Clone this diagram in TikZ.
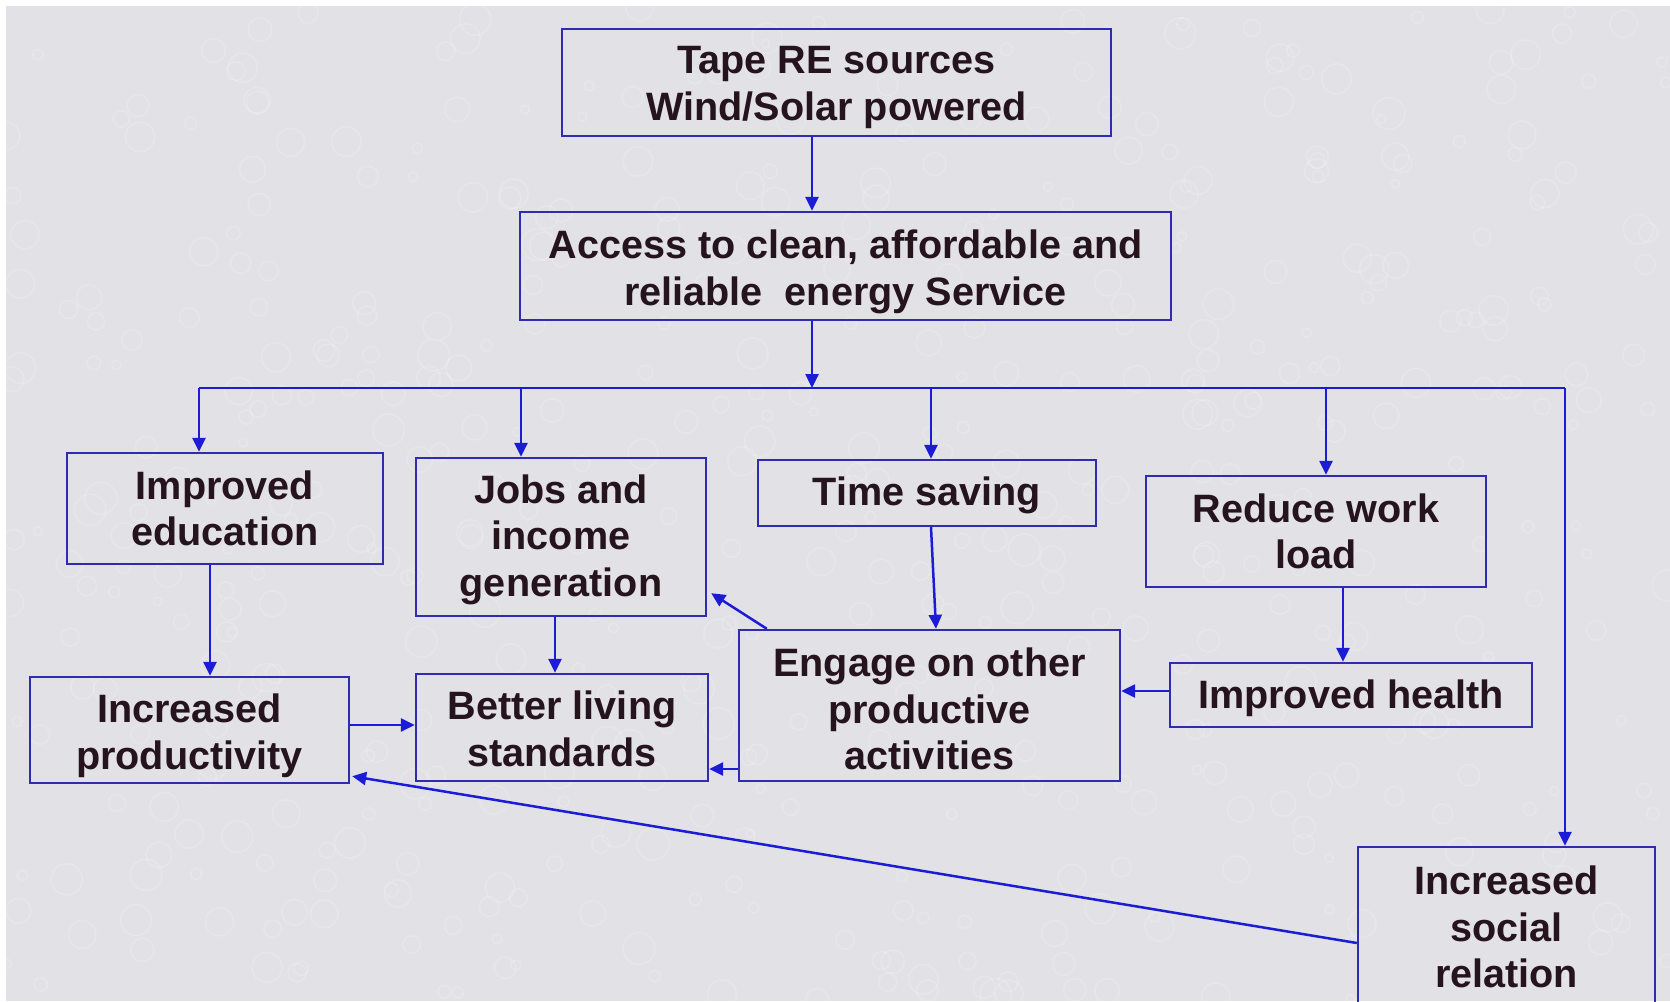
\documentclass[tikz,border=0pt]{standalone}
\usepackage{fontspec}
\setmainfont{Liberation Sans}
\usetikzlibrary{arrows.meta,calc}

\definecolor{paper}{RGB}{226,226,230}
\definecolor{boxline}{RGB}{48,44,176}
\definecolor{arrowblue}{RGB}{28,28,214}
\definecolor{ink}{RGB}{38,20,28}

% extra room above the first line pushes the text block down inside its box
\newcommand\topgap[1]{\rule{0pt}{\dimexpr28.5pt+#1pt\relax}}

\tikzset{
  box/.style={draw=boxline, line width=2.4pt, inner sep=0pt, align=center,
    text=ink, font=\fontsize{39.6}{46.5}\selectfont\bfseries},
  link/.style={draw=arrowblue, line width=2.5pt},
  arr/.style={link, -{Triangle[width=13pt,length=14pt]}},
}

\begin{document}
\begin{tikzpicture}[x=1pt,y=-1pt]
\useasboundingbox (0,0) rectangle (1670,1001);
\clip (0,0) rectangle (1670,1001);

% page and mottled paper background
\fill[white] (0,0) rectangle (1670,1001);
\fill[paper] (6,6) rectangle (1670,1001);
\pgfmathsetseed{7}
\foreach \i in {1,...,520}{
  \pgfmathsetmacro{\px}{6+1664*rnd}
  \pgfmathsetmacro{\py}{6+995*rnd}
  \pgfmathsetmacro{\pr}{4+12*rnd}
  \draw[white, opacity=0.16, line width=1.6pt] (\px,\py) circle[radius=\pr];
}

% boxes
\node[box, minimum width=549pt, minimum height=107pt] (src)    at (836.5,82.5) {\topgap{9}Tape RE sources\\Wind/Solar powered};
\node[box, minimum width=651pt, minimum height=108pt] (acc)    at (845.5,266)  {\topgap{12}Access to clean, affordable and\\reliable\ \ energy Service};
\node[box, minimum width=316pt, minimum height=111pt] (edu)    at (225,508.5)  {Improved\\education};
\node[box, minimum width=290pt, minimum height=158pt] (jobs)   at (561,537)    {\topgap{5}Jobs and\\income\\generation};
\node[box, minimum width=338pt, minimum height=66pt]  (time)   at (927,493)    {\topgap{4}Time saving};
\node[box, minimum width=340pt, minimum height=111pt] (work)   at (1316,531.5) {Reduce work\\load};
\node[box, minimum width=319pt, minimum height=106pt] (prod)   at (189.5,730)  {\topgap{12}Increased\\productivity};
\node[box, minimum width=292pt, minimum height=107pt] (live)   at (562,727.5)  {\topgap{3}Better living\\standards};
\node[box, minimum width=381pt, minimum height=151pt] (eng)    at (929.5,705.5){\topgap{7}Engage on other\\productive\\activities};
\node[box, minimum width=362pt, minimum height=64pt]  (health) at (1351,695)   {\topgap{6}Improved health};
\node[box, minimum width=297pt, minimum height=160pt] (soc)    at (1506.5,927) {Increased\\social\\relation};

% distribution bus
\coordinate (hub)  at (812,388);
\coordinate (busL) at (199,388);
\coordinate (bJ)   at (521,388);
\coordinate (bT)   at (931,388);
\coordinate (bW)   at (1326,388);
\coordinate (busR) at (1565,388);

\draw[arr] (src.south -| hub) -- (acc.north -| hub);
\draw[arr] (acc.south -| hub) -- (hub);
\draw[link] (busL) -- (busR);
\draw[arr] (busL) -- (edu.north -| busL);
\draw[arr] (bJ) -- (jobs.north -| bJ);
\draw[arr] (bT) -- (time.north -| bT);
\draw[arr] (bW) -- (work.north -| bW);
\draw[arr] (busR) -- (soc.north -| busR);

% cross links
\draw[arr] ([xshift=-15pt]edu.south) -- ([xshift=20.5pt]prod.north);
\draw[arr] ([xshift=-6pt]jobs.south) -- ([xshift=-7pt]live.north);
\draw[arr] ([xshift=4pt]time.south) -- ([xshift=6.5pt]eng.north);
\draw[arr] ([xshift=29pt]eng.north west) -- ([shift={(4pt,24pt)}]jobs.south east);
\draw[arr] ([yshift=-63.5pt]eng.west) -- ([yshift=-63.5pt]eng.west -| live.east);
\draw[arr] ([yshift=5pt]prod.east) -- ([yshift=5pt]prod.east -| live.west);
\draw[arr] ([yshift=4pt]health.west) -- ([yshift=4pt]health.west -| eng.east);
\draw[arr] ([xshift=27pt]work.south) -- ([xshift=27pt]work.south |- health.north);
\draw[arr] ([yshift=-16pt]soc.west) -- ([shift={(2pt,8pt)}]prod.south east);
\end{tikzpicture}
\end{document}
